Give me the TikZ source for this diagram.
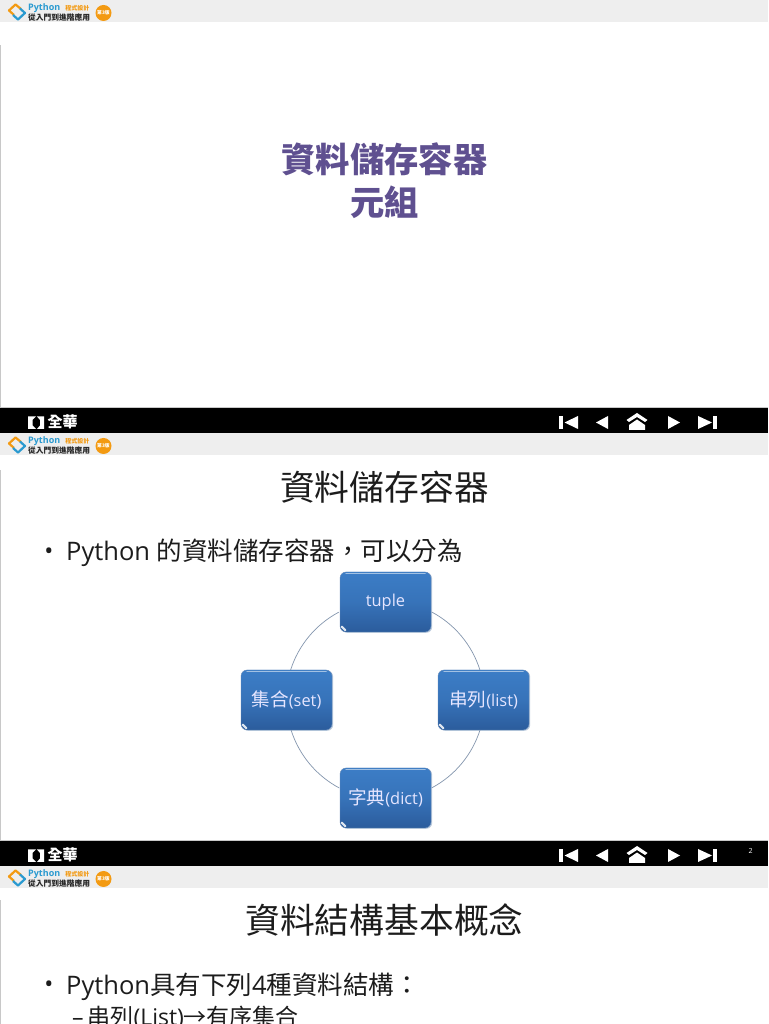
\documentclass[tikz,border=0pt]{standalone}
\usepackage{fontspec}
\setmainfont{Open Sans}
\newfontfamily\cjk{Noto Sans CJK TC}
\newcommand{\Zh}[1]{{\cjk #1}}
\newcommand{\Zb}[1]{{\cjk\fontsize{18.6}{20}\selectfont #1}}
\usetikzlibrary{calc,shadows}
\definecolor{headgray}{HTML}{EEEEEE}
\definecolor{edgegray}{HTML}{C8C8C8}
\definecolor{titlepurple}{HTML}{5F5090}
\definecolor{boxtop}{HTML}{3C7DC6}
\definecolor{boxbot}{HTML}{2B5C9C}
\definecolor{ringcol}{HTML}{8496AE}
\definecolor{logoblue}{HTML}{2A9AD0}
\definecolor{logoorange}{HTML}{F39A12}
\definecolor{textdark}{HTML}{1C1C1C}
\tikzset{
  cyclebox/.style={rounded corners=6pt,minimum width=91pt,minimum height=60pt,inner sep=0pt,
    top color=boxtop,bottom color=boxbot,middle color=boxtop!70!boxbot,draw=boxbot!70!white,line width=.4pt,
    text=white!90!blue,font=\fontsize{16.4}{18}\selectfont,
    drop shadow={shadow xshift=1.2pt,shadow yshift=-.8pt,fill=boxtop!60!gray,opacity=.4}},
  ring/.style={draw=ringcol,line width=.7pt},
  slidetitle/.style={text=textdark,font=\fontsize{34.8}{40}\selectfont,inner sep=0pt},
  bodyline/.style={text=textdark,anchor=west,inner sep=0pt,font=\fontsize{25.5}{30}\selectfont},
  subline/.style={text=textdark,anchor=west,inner sep=0pt,font=\fontsize{23}{26}\selectfont},
  bullet/.style={text=textdark,inner sep=0pt,font=\fontsize{24}{26}\selectfont},
  logotop/.style={text=logoblue,anchor=west,inner sep=0pt,font=\bfseries\fontsize{9}{10}\selectfont},
  logobot/.style={text=black!85,anchor=west,inner sep=0pt,font=\bfseries\fontsize{7.75}{8}\selectfont},
  edition/.style={circle,fill=logoorange,text=white,minimum size=16pt,inner sep=0pt,font=\bfseries\fontsize{4.8}{5}\selectfont},
  brand/.style={text=white,anchor=west,inner sep=0pt,font=\bfseries\fontsize{15}{16}\selectfont},
  navicon/.style={fill=white,draw=none}
}
\newcommand{\header}[2]{%
  \fill[headgray] (0,{1024-#1}) rectangle (768,{1024-#1-22});
  \begin{scope}[shift={(0,{1024-#1})}]
    \draw[logoorange,line width=2.2pt,line join=round] (14,-15) -- (9,-10.5) -- (15.5,-4.5) -- (21,-9);
    \draw[logoblue,line width=2.2pt,line join=round] (13,-15) -- (18,-19.5) -- (25,-13) -- (20,-8.5);
  \end{scope}
  \node[logotop] (#2top) at (28,{1024-#1-8.5}) {Python\hspace{5pt}\textcolor{logoorange}{\cjk\fontsize{6}{7}\selectfont 程式設計}};
  \node[logobot] (#2bot) at (28,{1024-#1-17.2}) {\Zh{從入門到進階應用}};
  \node[edition] (#2ed) at (103.5,{1024-#1-13}) {\Zh{第3版}};
}
\newcommand{\footerbar}[2]{%
  \fill[black] (0,{1024-#1}) rectangle (768,{1024-#1-25});
  \fill[edgegray] (0,{1024-#1+.6}) rectangle (768,{1024-#1});
  \begin{scope}[shift={(0,{1024-#1-14.5})}]
    \fill[white] (28,-6.5) -- (28,6) -- (36,6) -- (32.5,2.5) -- (32.5,-3) -- (36,-6.5) -- cycle;
    \fill[white] (37,6) -- (44,6) -- (44,-6.5) -- (37,-6.5) -- (40,-3) -- (40,2.5) -- cycle;
    \fill[navicon] (559,-6.5) rectangle (563,6.5);
    \fill[navicon] (564.5,0) -- (578,6.5) -- (578,-6.5) -- cycle;
    \fill[navicon] (596,0) -- (608,6.5) -- (608,-6.5) -- cycle;
    \fill[navicon] (637,9.5) -- (626.5,2.5) -- (629,0.5) -- (637,5.5) -- (645,0.5) -- (647.5,2.5) -- cycle;
    \fill[navicon] (637,3) -- (629,-2.5) -- (629,-7.5) -- (645,-7.5) -- (645,-2.5) -- cycle;
    \fill[navicon] (668,6.5) -- (680,0) -- (668,-6.5) -- cycle;
    \fill[navicon] (698,6.5) -- (712,0) -- (698,-6.5) -- cycle;
    \fill[navicon] (713,-6.5) rectangle (717,6.5);
  \end{scope}
  \node[brand] (#2brand) at (47.5,{1024-#1-14}) {\Zh{全華}};
}
\begin{document}
\begin{tikzpicture}[x=1pt,y=1pt]
\useasboundingbox (0,0) rectangle (768,1024);
\begin{scope}
\clip (0,0) rectangle (768,1024);
\fill[white] (0,0) rectangle (768,1024);
\fill[edgegray] (0,{1024-408}) rectangle (1,{1024-45});
\fill[edgegray] (0,{1024-841}) rectangle (1,{1024-470});
\fill[edgegray] (0,0) rectangle (1,{1024-900});
\header{0}{a}
\footerbar{408}{a}
\header{433}{b}
\footerbar{841}{b}
\header{866}{c}
\node[text=white,inner sep=0pt,font=\fontsize{7}{8}\selectfont] (pagenum) at (750.5,{1024-851}) {2};
% slide 1
\node[text=titlepurple,inner sep=0pt,font=\bfseries\fontsize{34.3}{40}\selectfont] (t1a) at (384.5,{1024-159}) {\cjk 資料儲存容器};
\node[text=titlepurple,inner sep=0pt,font=\bfseries\fontsize{34.3}{40}\selectfont] (t1b) at (384.5,{1024-202}) {\cjk 元組};
% slide 2
\node[slidetitle] (t2) at (384.5,{1024-487}) {\cjk 資料儲存容器};
\node[bullet] (b2) at (49,{1024-554}) {•};
\node[bodyline] (l2) at (66,{1024-553}) {Python \Zh{的資料儲存容器，可以分為}};
% diagram
\node[cyclebox] (tuple) at (385.5,{1024-602}) {tuple};
\node[cyclebox] (list) at (483.5,{1024-700}) {\Zb{串列}(list)};
\node[cyclebox] (dict) at (385.5,{1024-798}) {\Zb{字典}(dict)};
\node[cyclebox] (set) at (286.5,{1024-700}) {\Zb{集合}(set)};
\draw[ring] ($(tuple.east)+(.5,-10)$) arc[start angle=62,end angle=17.6,radius=99.6];
\draw[ring] ($(list.south)+(-3.5,.2)$) arc[start angle=-17.6,end angle=-62,radius=99.6];
\draw[ring] ($(dict.west)+(-.5,10)$) arc[start angle=-118,end angle=-162.4,radius=99.6];
\draw[ring] ($(set.north)+(4.1,-.2)$) arc[start angle=162.4,end angle=118,radius=99.6];
\foreach \n in {tuple,list,dict,set}{
  \draw[white!70!boxtop,line width=1.1pt,opacity=.75,line cap=round] ($(\n.north west)+(6,-1.6)$) -- ($(\n.north east)+(-6,-1.6)$);
  \draw[white,line width=2pt,opacity=.85,line cap=round] ($(\n.south west)+(2,5.5)$) -- ($(\n.south west)+(5.5,2)$);
}
% slide 3
\node[slidetitle] (t3) at (384.5,{1024-920}) {\cjk 資料結構基本概念};
\node[bullet] (b3) at (49,{1024-987}) {•};
\node[bodyline] (l3) at (66,{1024-987}) {Python\Zh{具有下列}4\Zh{種資料結構：}};
\node[subline] (s3) at (72,{1024-1018}) {–\,\Zh{串列}(List)\Zh{→有序集合}};
\end{scope}
\end{tikzpicture}
\end{document}
